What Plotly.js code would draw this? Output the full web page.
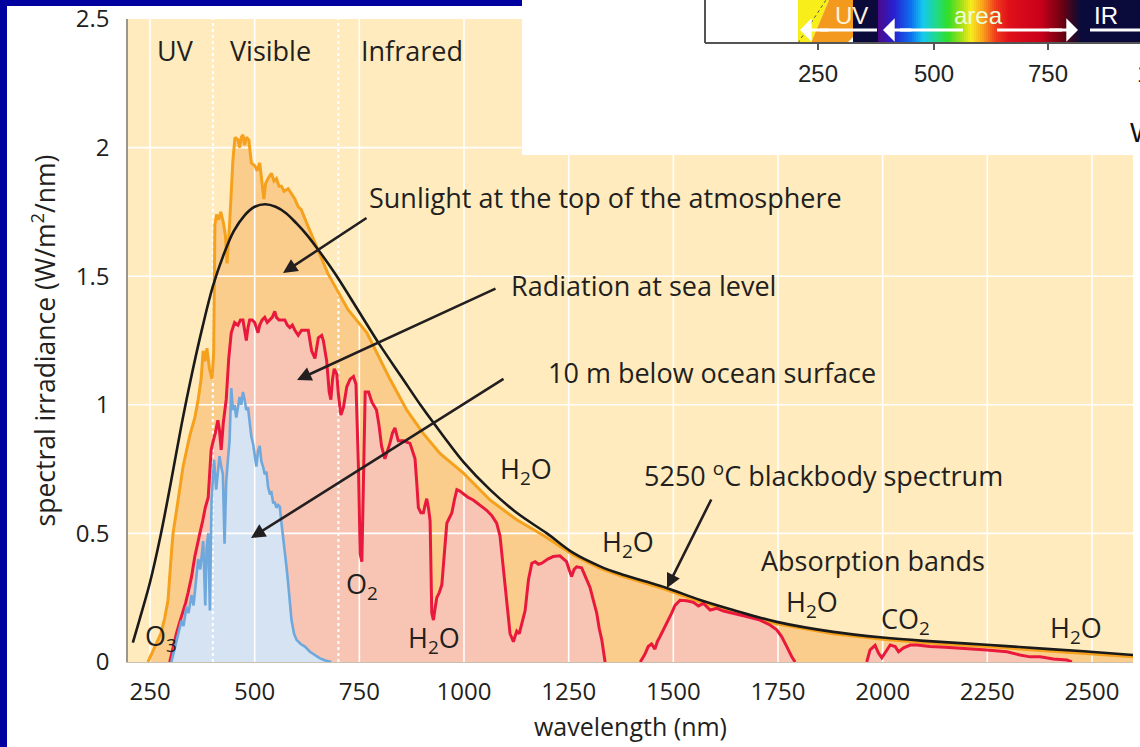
<!DOCTYPE html>
<html><head><meta charset="utf-8">
<script src="https://cdn.plot.ly/plotly-3.0.1.min.js"></script>
<style>html,body{margin:0;padding:0;background:#fff;}#chart{width:1140px;height:747px;}</style>
</head><body><div id="chart"></div>
<script>
// ---------- data ----------
const xTickVals = [250,500,750,1000,1250,1500,1750,2000,2250,2500];
const yTickVals = [0,0.5,1,1.5,2,2.5];
const yTickText = ['0','0.5','1','1.5','2','2.5'];
const bandBounds = [400,700];           // UV | Visible | Infrared
const xRange = [197.4, 2598];
const yRange = [0, 2.5];

// Sunlight at the top of the atmosphere
const wlTop  = [245,262,276,285,293,300,305,318,329,345,357,365,372,377,382,386,392,398,402,405,409,414,419,425,430,434,440,448,453,460,464,468,472,476,480,486,492,500,506,512,518,522,526,532,540,546,552,558,564,570,580,588,596,604,611,631,651,675,699,723,768,807,823,863,902,943,998,1062,1126,1190,1261,1325,1373,1430,1484,1564,1643,1747,1882,2000,2100,2257,2400,2503,2598];
const irrTop = [0,0.06,0.11,0.17,0.24,0.40,0.50,0.64,0.76,0.88,0.95,1.02,1.10,1.21,1.17,1.22,1.14,1.10,1.20,1.70,1.74,1.72,1.75,1.71,1.66,1.55,1.70,1.95,2.04,2.03,2.00,2.04,2.05,2.01,2.04,2.03,1.94,1.93,1.91,1.94,1.86,1.80,1.86,1.88,1.90,1.87,1.88,1.85,1.85,1.83,1.84,1.82,1.80,1.77,1.76,1.68,1.60,1.51,1.44,1.37,1.28,1.15,1.10,0.98,0.89,0.81,0.735,0.63,0.553,0.492,0.416,0.364,0.336,0.308,0.281,0.234,0.195,0.149,0.110,0.088,0.075,0.059,0.043,0.032,0.020];

// Radiation at sea level
const wlSea  = [297,305,313,320,328,335,341,349,357,363,369,376,382,389,392,396,401,406,412,416,420,425,432,438,444,452,460,466,472,476,480,484,488,494,500,504,508,512,518,524,530,536,542,548,552,558,564,572,578,584,590,596,604,612,620,628,636,644,652,660,664,672,678,682,686,690,696,700,706,712,720,728,736,742,748,752,756,760,764,772,780,791,797,803,811,817,823,829,835,843,855,871,877,883,887,891,897,903,907,911,915,919,923,927,931,935,941,947,953,959,965,971,977,983,990,998,1010,1022,1038,1054,1066,1078,1086,1094,1102,1110,1118,1122,1126,1132,1138,1146,1150,1154,1162,1170,1178,1186,1200,1213,1229,1245,1251,1257,1263,1269,1281,1291,1301,1309,1317,1323,1329,1337,null,1421,1432,1440,1448,1456,1462,1468,1480,1488,1496,1504,1516,1532,1548,1560,1572,1588,1604,1620,1643,1675,1707,1731,1747,1759,1771,1783,1791,null,1962,1970,1982,1990,1998,2010,2018,2030,2038,2050,2066,2082,2113,2150,2193,2249,2297,2328,2352,2376,2408,2440,2452];
const irrSea = [0,0.06,0.11,0.15,0.19,0.23,0.27,0.33,0.41,0.45,0.50,0.55,0.60,0.64,0.72,0.825,0.86,0.89,0.94,0.90,0.825,0.93,1.02,1.18,1.28,1.32,1.31,1.33,1.33,1.29,1.25,1.30,1.33,1.33,1.32,1.30,1.28,1.31,1.33,1.34,1.32,1.33,1.34,1.363,1.34,1.33,1.33,1.33,1.31,1.30,1.31,1.29,1.27,1.29,1.29,1.29,1.21,1.18,1.26,1.27,1.25,1.17,1.05,1.02,1.10,1.14,1.12,1.04,0.96,0.99,1.07,1.10,1.11,1.08,0.75,0.42,0.39,0.75,1.05,1.05,1.01,0.98,0.92,0.84,0.79,0.82,0.85,0.89,0.91,0.86,0.86,0.85,0.82,0.79,0.70,0.60,0.58,0.58,0.61,0.635,0.60,0.55,0.19,0.163,0.21,0.25,0.27,0.30,0.42,0.54,0.56,0.58,0.63,0.67,0.665,0.655,0.64,0.63,0.61,0.59,0.57,0.54,0.49,0.37,0.25,0.11,0.079,0.10,0.12,0.11,0.15,0.20,0.26,0.32,0.384,0.39,0.38,0.384,0.40,0.41,0.413,0.39,0.36,0.332,0.36,0.37,0.366,0.33,0.29,0.24,0.19,0.13,0.087,0,null,0,0.03,0.06,0.07,0.05,0.08,0.098,0.137,0.16,0.19,0.22,0.24,0.238,0.232,0.218,0.228,0.202,0.209,0.198,0.19,0.177,0.163,0.144,0.125,0.098,0.06,0.02,0,null,0,0.047,0.065,0.035,0.016,0.047,0.066,0.06,0.04,0.055,0.066,0.066,0.06,0.057,0.053,0.047,0.04,0.027,0.02,0.02,0.012,0.008,0];

// 10 m below ocean surface
const wlOcean  = [301,310,317,325,330,337,342,349,354,360,365,370,377,382,385,389,393,397,400,403,408,412,416,420,424,428,432,436,440,444,448,452,456,460,464,468,472,476,480,484,488,492,496,500,504,508,512,516,520,524,528,532,536,540,544,548,552,556,560,564,568,572,576,580,584,588,594,600,610,620,632,643,655,667,683];
const irrOcean = [0,0.06,0.11,0.16,0.14,0.215,0.19,0.26,0.22,0.33,0.40,0.36,0.47,0.22,0.44,0.50,0.20,0.63,0.72,0.786,0.67,0.74,0.80,0.76,0.73,0.46,0.70,0.786,0.86,1.065,0.98,1.0,0.95,0.99,1.03,1.00,1.05,1.02,0.98,0.99,0.92,0.877,0.85,0.80,0.76,0.82,0.84,0.78,0.76,0.73,0.74,0.68,0.656,0.66,0.62,0.62,0.60,0.61,0.604,0.54,0.49,0.436,0.37,0.306,0.23,0.163,0.11,0.086,0.07,0.06,0.04,0.027,0.015,0.007,0];

// 5250 oC blackbody spectrum
const wlBody  = [209,225,250,275,300,325,350,375,400,425,450,475,500,525,550,575,600,625,650,675,700,750,800,850,900,950,1000,1062,1126,1198,1261,1325,1373,1430,1484,1564,1643,1747,1882,2000,2100,2257,2400,2503,2598];
const irrBody = [0.075,0.165,0.31,0.49,0.70,0.92,1.12,1.30,1.46,1.58,1.675,1.735,1.77,1.78,1.77,1.745,1.705,1.66,1.607,1.55,1.49,1.36,1.23,1.11,0.99,0.88,0.775,0.67,0.58,0.50,0.424,0.372,0.343,0.315,0.288,0.241,0.202,0.156,0.117,0.095,0.082,0.066,0.05,0.039,0.027];

// ---------- styling ----------
const TXT = '#231f20';
const FONT = 'Open Sans, sans-serif';
const L = 128, R = 1133, T = 19, B = 662;
const px = x => (x - L) / (R - L);
const py = y => (B - y) / (B - T);

// gridlines built from tick values (drawn between fills and lines)
const gx = [], gy = [];
xTickVals.forEach(t => { gx.push(t, t, null); gy.push(yRange[0], yRange[1], null); });
yTickVals.filter(v => v > yRange[0] && v < yRange[1]).forEach(v => { gx.push(xRange[0], xRange[1], null); gy.push(v, v, null); });
const bx = [], by = [];
bandBounds.forEach(b => { bx.push(b, b, null); by.push(yRange[0], yRange[1], null); });

const fillTrace = (x, y, c) => ({x, y, type:'scatter', mode:'lines', fill:'tozeroy', fillcolor:c, line:{width:0, color:c}, connectgaps:false, hoverinfo:'skip', showlegend:false});
const lineTrace = (x, y, c, w, shape) => ({x, y, type:'scatter', mode:'lines', line:{width:w, color:c, shape:shape||'linear', smoothing:1}, connectgaps:false, hoverinfo:'skip', showlegend:false});

const data = [
  fillTrace(wlTop, irrTop, '#fbcd8c'),
  fillTrace(wlSea, irrSea, '#f8c5b4'),
  fillTrace(wlOcean, irrOcean, '#d5e3f2'),
  {x:gx, y:gy, type:'scatter', mode:'lines', line:{color:'#ffffff', width:1.6}, hoverinfo:'skip', showlegend:false},
  {x:bx, y:by, type:'scatter', mode:'lines', line:{color:'#ffffff', width:2, dash:'dot'}, hoverinfo:'skip', showlegend:false},
  lineTrace(wlTop, irrTop, '#f6a11d', 3),
  lineTrace(wlSea, irrSea, '#e8193c', 3),
  lineTrace(wlOcean, irrOcean, '#6ea8dc', 2.6),
  lineTrace(wlBody, irrBody, '#1a1a1a', 2.6, 'spline')
];

// ---------- annotations ----------
const ann = [];
const txt = (text, x, y, anchor, extra) => ann.push(Object.assign({text, x:px(x), y:py(y), xref:'paper', yref:'paper', xanchor:anchor||'center', yanchor:'middle', showarrow:false, font:{family:FONT, size:27, color:TXT}}, extra||{}));
txt('UV', 175, 50); txt('Visible', 270, 50); txt('Infrared', 412, 50);
txt('Sunlight at the top of the atmosphere', 367, 197, 'left');
txt('Radiation at sea level', 509, 285, 'left');
txt('10 m below ocean surface', 546, 373, 'left');
txt('5250 <sup>o</sup>C blackbody spectrum', 642, 474, 'left');
txt('Absorption bands', 759, 560, 'left');
txt('H<sub>2</sub>O', 526, 470); txt('H<sub>2</sub>O', 628, 543); txt('H<sub>2</sub>O', 812, 603);
txt('CO<sub>2</sub>', 905, 620); txt('H<sub>2</sub>O', 1076, 629); txt('H<sub>2</sub>O', 434, 639);
txt('O<sub>2</sub>', 362, 585); txt('O<sub>3</sub>', 161, 637);

const arrow = (hx, hy, tx, ty) => ann.push({text:'', x:px(hx), y:py(hy), xref:'paper', yref:'paper', ax:tx-hx, ay:ty-hy, showarrow:true, arrowhead:2, arrowsize:1.1, arrowwidth:2.6, arrowcolor:TXT, standoff:0});
arrow(283, 273, 368, 217);
arrow(297, 380, 497, 288);
arrow(251, 538, 505, 378);
arrow(667, 588, 712, 498);

// ---------- inset fragment (top right) and frame ----------
const shapes = [];
const rect = (x0, y0, x1, y1, c, extra) => shapes.push(Object.assign({type:'rect', xref:'paper', yref:'paper', x0:px(x0), x1:px(x1), y0:py(y1), y1:py(y0), fillcolor:c, line:{width:0}, layer:'above'}, extra||{}));
const seg = (x0, y0, x1, y1, c, w, dash) => shapes.push({type:'line', xref:'paper', yref:'paper', x0:px(x0), y0:py(y0), x1:px(x1), y1:py(y1), line:{color:c, width:w, dash:dash||'solid'}, layer:'above'});
const path = (pts, c) => shapes.push({type:'path', xref:'paper', yref:'paper', path: 'M ' + pts.map(p => px(p[0]) + ',' + py(p[1])).join(' L ') + ' Z', fillcolor:c, line:{width:0}, layer:'above'});

rect(0, 0, 7, 747, '#0000a0');
rect(0, 0, 522, 6, '#0000a0');
rect(522, 0, 1141, 155, '#ffffff');
// spectrum strip
path([[798,0],[829,0],[811,43],[798,43]], '#f7ee1a');
path([[829,0],[853,0],[853,37],[847,43],[811,43]], '#f39a1e');
rect(853, 0, 879, 43, '#0b0b3b');
const spec = [[878,[74,10,140]],[893,[42,31,208]],[910,[15,111,240]],[922,[20,200,240]],[935,[32,216,144]],[947,[46,222,42]],[960,[159,224,26]],[970,[245,236,28]],[982,[249,160,27]],[995,[238,58,26]],[1008,[224,16,26]],[1040,[200,0,26]],[1062,[106,0,16]],[1075,[32,8,42]],[1081,[11,11,59]]];
for (let xx = 878; xx < 1081; xx += 2) {
  let i = 0; while (i < spec.length - 2 && spec[i+1][0] <= xx) i++;
  const a = spec[i], b = spec[i+1], f = Math.min(1, Math.max(0, (xx - a[0]) / (b[0] - a[0])));
  const c = a[1].map((v, k) => Math.round(v + (b[1][k] - v) * f));
  rect(xx, 0, xx + 2.4, 43, 'rgb(' + c.join(',') + ')');
}
rect(1080, 0, 1141, 43, '#0b0b3b');
seg(798, 43, 826, 0, '#555555', 1, 'dot');
seg(705, 0, 705, 43, '#555555', 2);
seg(705, 43, 1141, 43, '#555555', 2);
[818, 934, 1048].forEach(x => seg(x, 43, x, 50, '#555555', 2));
// white arrows in the strip
seg(820, 30, 877, 30, '#ffffff', 3);
seg(900, 30, 963, 30, '#ffffff', 3);
seg(997, 30, 1062, 30, '#ffffff', 3);
seg(1090, 30, 1141, 30, '#ffffff', 3);
const wArrow = (hx, tx) => ann.push({text:'', x:px(hx), y:py(30), xref:'paper', yref:'paper', ax:tx-hx, ay:0, showarrow:true, arrowhead:1, arrowsize:1.3, arrowwidth:3, arrowcolor:'#ffffff', standoff:0});
wArrow(800, 830); wArrow(883, 913); wArrow(1078, 1048);
const NAR = 'Liberation Sans Narrow, Liberation Sans, Arial, sans-serif';
txt('UV', 851, 16, 'center', {font:{family:NAR, size:24, color:'#fff3dc'}});
txt('area', 978, 15, 'center', {font:{family:NAR, size:24, color:'#eaffde'}});
txt('IR', 1106, 16, 'center', {font:{family:NAR, size:24, color:'#ffffff'}});
[['250',818],['500',934],['750',1048],['1000',1163]].forEach(t => txt(t[0], t[1], 73, 'center', {font:{family:'Liberation Sans, Arial, sans-serif', size:24, color:'#222222'}}));
txt('Wavelength (nm)', 1128, 133, 'left', {font:{family:'Liberation Sans, Arial, sans-serif', size:27, color:'#111111'}});

const layout = {
  width:1140, height:747,
  margin:{l:L, r:1140-R, t:T, b:747-B, pad:0},
  paper_bgcolor:'#ffffff', plot_bgcolor:'#ffebbd',
  showlegend:false, hovermode:false,
  font:{family:FONT, color:TXT},
  xaxis:{range:xRange, tickvals:xTickVals, ticktext:xTickVals.map(String), showgrid:false, zeroline:false,
         showline:true, linecolor:'#c9c0b0', linewidth:1.2, ticks:'outside', ticklen:8, tickcolor:'rgba(0,0,0,0)',
         tickfont:{family:FONT, size:24, color:TXT},
         title:{text:'wavelength (nm)', font:{family:FONT, size:25, color:TXT}, standoff:12}},
  yaxis:{range:yRange, tickvals:yTickVals, ticktext:yTickText, showgrid:false, zeroline:false,
         showline:true, linecolor:'#9a968e', linewidth:1.6, ticks:'outside', ticklen:12, tickcolor:'rgba(0,0,0,0)',
         tickfont:{family:FONT, size:24, color:TXT},
         title:{text:'spectral irradiance (W/m<sup>2</sup>/nm)', font:{family:FONT, size:26.5, color:TXT}, standoff:12}},
  annotations:ann, shapes:shapes
};
Plotly.newPlot('chart', data, layout, {staticPlot:true, displayModeBar:false});
</script></body></html>
